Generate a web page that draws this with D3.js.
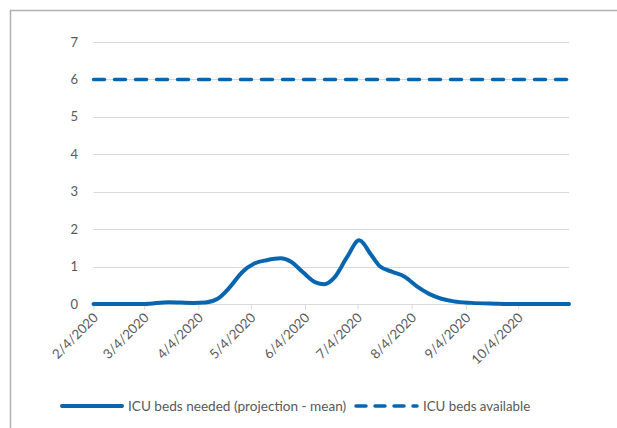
<!DOCTYPE html>
<html><head><meta charset="utf-8">
<script src="https://cdn.jsdelivr.net/npm/d3@7"></script>
<style>
html,body{margin:0;padding:0;background:#fff;}
svg{display:block;font-family:Lato,"Open Sans",sans-serif;}
</style></head>
<body>
<svg id="c" width="617" height="428"></svg>
<script>
const dates = ["2020-02-04","2020-03-04","2020-03-18","2020-04-01","2020-04-08","2020-04-15","2020-04-22","2020-04-29","2020-05-06","2020-05-13","2020-05-21","2020-05-27","2020-06-03","2020-06-10","2020-06-15","2020-06-21","2020-06-28","2020-07-05","2020-07-12","2020-07-17","2020-07-24","2020-07-31","2020-08-07","2020-08-14","2020-08-21","2020-08-28","2020-09-07","2020-09-21","2020-10-04","2020-11-02"];
const needed = [0,0,0.05,0.03,0.04,0.14,0.45,0.85,1.08,1.17,1.22,1.13,0.84,0.58,0.53,0.72,1.25,1.7,1.3,1.0,0.86,0.73,0.47,0.27,0.14,0.07,0.03,0.01,0,0];
const available = 6;
const tickDates = ["2020-02-04","2020-03-04","2020-04-04","2020-05-04","2020-06-04","2020-07-04","2020-08-04","2020-09-04","2020-10-04"];
const yTicks = [0,1,2,3,4,5,6,7];
const seriesNames = ["ICU beds needed (projection - mean)","ICU beds available"];

const parse = d3.timeParse("%Y-%m-%d");
const fmt = d3.timeFormat("%-m/%-d/%Y");
const blue = "#0866b0";
const grid = "#d9d9d9";
const textCol = "#595959";

const svg = d3.select("#c");
// chart border
svg.append("rect").attr("x",10.5).attr("y",10.5).attr("width",700).attr("height",500)
  .attr("fill","none").attr("stroke","#b0b0b0").attr("stroke-width",1.5);

const x = d3.scaleTime().domain([parse("2020-02-04"), parse("2020-11-02")]).range([93.5, 569]);
const y = d3.scaleLinear().domain([0,7]).range([304, 42]);

// gridlines
svg.append("g").selectAll("line").data(yTicks).join("line")
  .attr("x1",93.5).attr("x2",569).attr("y1",d=>Math.round(y(d))+0.5).attr("y2",d=>Math.round(y(d))+0.5)
  .attr("stroke",grid).attr("stroke-width",1);

// y labels
svg.append("g").selectAll("text").data(yTicks).join("text")
  .attr("x",78).attr("y",d=>y(d)).attr("dy","0.35em").attr("text-anchor","end")
  .attr("fill",textCol).attr("font-size",13).text(d=>d);

// x axis ticks
const xAxis = d3.axisBottom(x).tickValues(tickDates.map(parse)).tickFormat(fmt).tickSize(5).tickSizeOuter(0);
const gx = svg.append("g").attr("transform",`translate(0,${Math.round(y(0))+0.5})`).call(xAxis);
gx.select(".domain").remove();
gx.selectAll(".tick line").attr("stroke",grid);
gx.selectAll(".tick text").attr("fill",textCol).attr("font-size",13.3).attr("font-family","Lato,'Open Sans',sans-serif")
  .attr("text-anchor","end").attr("dy",null).attr("y",null)
  .attr("transform","translate(5,14) rotate(-45)");

// dashed line (available)
const lineAvail = d3.line().x(d=>x(d)).y(()=>y(available));
svg.append("path").datum([parse("2020-02-04"), parse("2020-11-02")]).attr("d",lineAvail)
  .attr("fill","none").attr("stroke",blue).attr("stroke-width",3.5)
  .attr("stroke-dasharray","11,10").attr("stroke-linecap","round");

// needed line
const pts = dates.map((d,i)=>({date:parse(d), v:needed[i]}));
const lineNeeded = d3.line().x(d=>x(d.date)).y(d=>y(d.v)).curve(d3.curveMonotoneX);
svg.append("path").datum(pts).attr("d",lineNeeded)
  .attr("fill","none").attr("stroke",blue).attr("stroke-width",4).attr("stroke-linecap","round");

// legend
const ly = 406;
svg.append("line").attr("x1",62).attr("x2",122).attr("y1",ly).attr("y2",ly)
  .attr("stroke",blue).attr("stroke-width",4).attr("stroke-linecap","round");
svg.append("text").attr("x",128).attr("y",ly).attr("dy","0.35em").attr("fill",textCol).attr("font-size",13.6).text(seriesNames[0]);
svg.append("line").attr("x1",356).attr("x2",417).attr("y1",ly).attr("y2",ly)
  .attr("stroke",blue).attr("stroke-width",3.5).attr("stroke-dasharray","10,9").attr("stroke-linecap","round");
svg.append("text").attr("x",423).attr("y",ly).attr("dy","0.35em").attr("fill",textCol).attr("font-size",13.3).text(seriesNames[1]);
</script>
</body></html>
